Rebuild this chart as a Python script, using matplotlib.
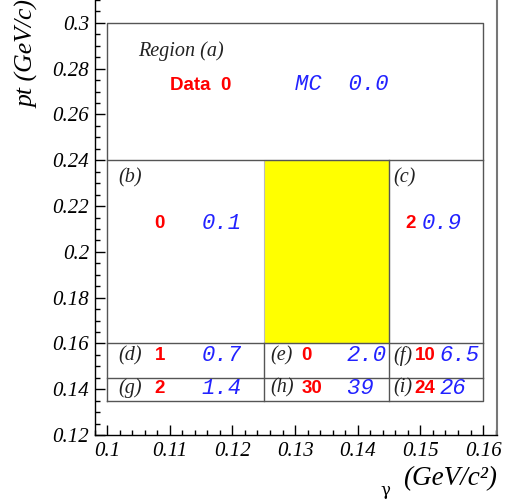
import matplotlib.pyplot as plt
from matplotlib.patches import Rectangle
from matplotlib.ticker import MultipleLocator

# region grid (gamma mass vs pt)
gamma_edges = [0.1, 0.125, 0.145, 0.16]
pt_edges = [0.135, 0.145, 0.16, 0.24, 0.3]
signal_gamma = (0.125, 0.145)
signal_pt = (0.16, 0.24)

regions = ['a', 'b', 'c', 'd', 'e', 'f', 'g', 'h', 'i']
data_counts = [0, 0, 2, 1, 0, 10, 2, 30, 24]
mc_labels = ['0.0', '0.1', '0.9', '0.7', '2.0', '6.5', '1.4', '39', '26']

# text placement: (letter x, letter y, data x, mc x, numbers y)
layout = {
    'b': (0.1018, 0.2321, 0.1075, 0.1151, 0.2125),
    'c': (0.1456, 0.2321, 0.1476, 0.1502, 0.2125),
    'd': (0.1018, 0.1546, 0.1076, 0.1151, 0.1546),
    'e': (0.1261, 0.1546, 0.1310, 0.1382, 0.1546),
    'f': (0.1456, 0.1546, 0.1491, 0.1531, 0.1546),
    'g': (0.1018, 0.1405, 0.1076, 0.1151, 0.1405),
    'h': (0.1261, 0.1405, 0.1310, 0.1383, 0.1405),
    'i': (0.1456, 0.1405, 0.1491, 0.1531, 0.1405),
}

plt.rcParams['font.family'] = 'Liberation Serif'
plt.rcParams['font.style'] = 'italic'

fig = plt.figure(figsize=(5.1, 5.01), dpi=100)
ax = fig.add_axes([0.1853, 0.1317, 0.789, 0.8683])
ax.set_xlim(0.098, 0.1622)
ax.set_ylim(0.12, 0.31)

line_col = '#555555'
x0, x1 = gamma_edges[0], gamma_edges[-1]
y0, y1 = pt_edges[0], pt_edges[-1]

ax.add_patch(Rectangle((signal_gamma[0], signal_pt[0]),
                       signal_gamma[1] - signal_gamma[0],
                       signal_pt[1] - signal_pt[0],
                       facecolor='#ffff00', edgecolor='#bbbbbb', lw=0.8, zorder=1))

ax.plot([x0, x1, x1, x0, x0], [y0, y0, y1, y1, y0], color=line_col, lw=1, zorder=2)
for y in pt_edges[1:-1]:
    ax.plot([x0, x1], [y, y], color=line_col, lw=1, zorder=2)
ax.plot([gamma_edges[1]] * 2, [y0, signal_pt[0]], color=line_col, lw=1, zorder=2)
ax.plot([gamma_edges[2]] * 2, [y0, signal_pt[1]], color=line_col, lw=1, zorder=2)

red_kw = dict(color='#ff0000', family='Liberation Sans', weight='bold', style='normal',
              fontsize=13.5, ha='left', va='center')
blue_kw = dict(color='#2222ff', family='Liberation Mono', style='italic',
               fontsize=16, ha='left', va='center')
lab_kw = dict(color='#222222', fontsize=14.5, ha='left', va='center')

# region (a)
ax.text(0.1049, 0.2875, 'Region (a)', **lab_kw)
ax.text(0.110, 0.2727, 'Data  %d' % data_counts[0], **red_kw)
ax.text(0.130, 0.2731, 'MC  ' + mc_labels[0], **blue_kw)

for reg, n, mc in zip(regions[1:], data_counts[1:], mc_labels[1:]):
    lx, ly, dx, mx, ny = layout[reg]
    ax.text(lx, ly, '(%s)' % reg, **lab_kw)
    ax.text(dx, ny, str(n), **red_kw)
    ax.text(mx, ny, mc, **blue_kw)

ax.xaxis.set_minor_locator(MultipleLocator(0.002))
ax.yaxis.set_minor_locator(MultipleLocator(0.005))
ax.set_xticks([0.1, 0.11, 0.12, 0.13, 0.14, 0.15, 0.16])
ax.set_xticklabels(['0.1', '0.11', '0.12', '0.13', '0.14', '0.15', '0.16'])
ax.set_yticks([0.12, 0.14, 0.16, 0.18, 0.2, 0.22, 0.24, 0.26, 0.28, 0.3])
ax.set_yticklabels(['0.12', '0.14', '0.16', '0.18', '0.2', '0.22', '0.24', '0.26', '0.28', '0.3'])
ax.tick_params(which='both', direction='in', colors='black', labelsize=15)
ax.tick_params(which='major', length=7.2, width=1)
ax.tick_params(which='minor', length=3.6, width=1)
ax.tick_params(axis='x', which='major', pad=5)
ax.tick_params(axis='y', which='major', pad=4)

ax.spines['top'].set_visible(False)
ax.spines['right'].set_color('#777777')
ax.spines['right'].set_linewidth(1.5)
for s in ('left', 'bottom'):
    ax.spines[s].set_linewidth(1)

ax.text(-0.165, 1.0, 'pt (GeV/c)', transform=ax.transAxes, rotation=90,
        ha='center', va='top', fontsize=18.5)
ax.text(1.0, -0.1, '(GeV/c²)', transform=ax.transAxes,
        ha='right', va='center', fontsize=19.5)
ax.text(0.735, -0.128, 'γ', transform=ax.transAxes, family='DejaVu Serif',
        style='normal', ha='right', va='center', fontsize=12)

fig.savefig('out.png', dpi=100)
